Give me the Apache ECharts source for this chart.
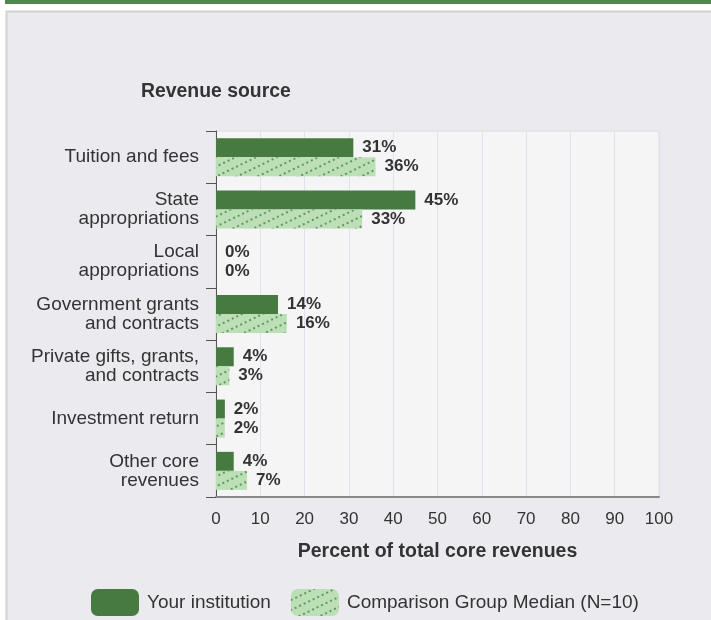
<!DOCTYPE html>
<html>
<head>
<meta charset="utf-8">
<script src="https://cdn.jsdelivr.net/npm/echarts@6/dist/echarts.min.js"></script>
<style>
html,body{margin:0;padding:0;background:#ffffff;}
#chart{width:711px;height:620px;}
</style>
</head>
<body>
<div id="chart"></div>
<script>
var categories = [
  'Tuition and fees',
  'State\nappropriations',
  'Local\nappropriations',
  'Government grants\nand contracts',
  'Private gifts, grants,\nand contracts',
  'Investment return',
  'Other core\nrevenues'
];
var yourInstitution = [31, 45, 0, 14, 4, 2, 4];
var comparisonMedian = [36, 33, 0, 16, 3, 2, 7];
var xTicks = [0, 10, 20, 30, 40, 50, 60, 70, 80, 90, 100];
var seriesNames = ['Your institution', 'Comparison Group Median (N=10)'];

var FONT = '"Liberation Sans", Arial, sans-serif';
var chart = echarts.init(document.getElementById('chart'));
var labelStyle = {
  show: true, position: 'right', distance: 9,
  formatter: '{c}%', color: '#333', fontSize: 17, fontWeight: 'bold', fontFamily: FONT
};
chart.setOption({
  animation: false,
  graphic: [
    {type: 'rect', shape: {x: 5, y: 0, width: 706, height: 4}, style: {fill: '#4e8a4e'}, silent: true, z: -10},
    {type: 'rect', shape: {x: 6.5, y: 11.5, width: 720, height: 620}, style: {fill: '#ebebef', stroke: '#d2d2d2', lineWidth: 2}, silent: true, z: -10},
    {type: 'text', left: 141, top: 82, style: {text: 'Revenue source', fill: '#333', fontSize: 19.4, fontWeight: 'bold', fontFamily: FONT}, silent: true}
  ],
  legend: {
    left: 86, top: 584,
    itemWidth: 48, itemHeight: 27, itemGap: 20,
    icon: 'roundRect',
    data: seriesNames,
    textStyle: {color: '#333', fontSize: 19, fontFamily: FONT, padding: [0, 0, 0, 3]}
  },
  grid: {
    left: 216, top: 131, width: 443, height: 366,
    show: true, backgroundColor: '#f5f5f5', borderColor: '#dcdcdc', borderWidth: 1,
    containLabel: false
  },
  xAxis: {
    type: 'value', min: 0, max: 100, interval: 10,
    name: 'Percent of total core revenues', nameLocation: 'middle', nameGap: 45,
    nameTextStyle: {color: '#333', fontSize: 19.5, fontWeight: 'bold', fontFamily: FONT},
    axisLine: {show: true, lineStyle: {color: '#888', width: 2}},
    axisTick: {show: false},
    axisLabel: {color: '#333', fontSize: 17, margin: 14, fontFamily: FONT,
      formatter: function (v) { return xTicks.indexOf(v) >= 0 ? String(v) : ''; }},
    splitLine: {show: true, lineStyle: {color: '#dde3ee', width: 1}}
  },
  yAxis: {
    type: 'category', data: categories, inverse: true,
    axisLine: {show: true, lineStyle: {color: '#555', width: 1}},
    axisTick: {show: true, length: 10, lineStyle: {color: '#555'}},
    axisLabel: {color: '#333', fontSize: 19, lineHeight: 19, margin: 17, fontFamily: FONT, align: 'right'},
    splitLine: {show: false}
  },
  series: [
    {
      name: seriesNames[0], type: 'bar', data: yourInstitution,
      barWidth: 19, barGap: '0%',
      itemStyle: {color: '#467a41'},
      label: labelStyle
    },
    {
      name: seriesNames[1], type: 'bar', data: comparisonMedian,
      barWidth: 19, barGap: '0%',
      itemStyle: {
        color: '#bcdfb8',
        decal: {
          symbol: 'rect', symbolSize: 1, color: '#5e9a58',
          dashArrayX: [[2, 3]], dashArrayY: [2, 7], rotation: -0.45
        }
      },
      label: labelStyle
    }
  ]
});
</script>
</body>
</html>
